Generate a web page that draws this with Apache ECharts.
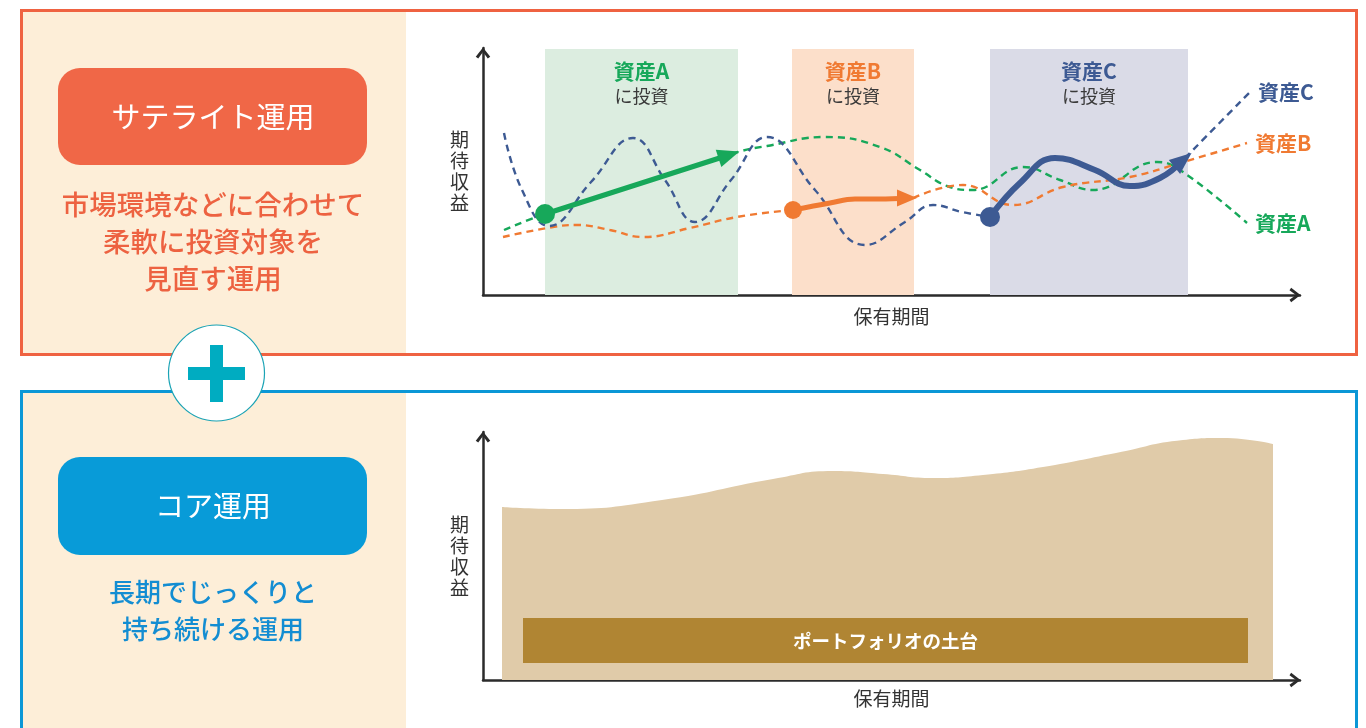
<!DOCTYPE html>
<html lang="ja">
<head>
<meta charset="utf-8">
<title>サテライト運用とコア運用</title>
<script src="https://cdn.jsdelivr.net/npm/echarts@6/dist/echarts.min.js"></script>
<style>
html,body{margin:0;padding:0;background:#fff;}
#chart{width:1366px;height:728px;}
</style>
</head>
<body>
<div id="chart"></div>
<script>
// ---- data (x = 保有期間, y = 期待収益, arbitrary units) ----
var bandA = [62, 255], bandB = [309, 431], bandC = [507, 705];
var bandTop = 246;

var assetCDash1 = [[21,162],[39,105],[66,69],[108,113],[150,157],[182,115],[212,73],[248,115],[284,158],[332,105],[382,50],[422,73],[450,90],[479,83],[507,78]];
var assetCDash2 = [[702,137],[767,203]];
var assetCHold  = [[507,78],[537,112],[572,137],[612,125],[647,109],[677,117],[700,135]];

var assetADash  = [[21,65],[62,81],[157,111],[255,143],[284,149],[342,158],[397,148],[437,125],[464,109],[490,105],[540,128],[577,115],[610,105],[674,133],[697,125],[764,72]];
var assetAHold  = [[62,81],[246,140]];

var assetBDash1 = [[20,58],[70,68],[94,70],[127,65],[160,58],[207,67],[254,78],[309,85]];
var assetBDash2 = [[430,97],[480,110],[530,90],[580,108],[647,118],[697,132],[764,152]];
var assetBHold  = [[310,85],[347,92],[372,96],[397,96],[424,97]];

var coreArea = [[19,173],[77,171],[179,180],[290,201],[350,209],[400,206],[450,202],[500,205],[560,213],[633,227],[700,240],[740,242],[790,236]];
var baseBar = [[40,17],[765,62]];

var FONT = '"Noto Sans CJK JP", "Noto Sans", sans-serif';
var BLUE = '#3d5a93', GREEN = '#17a85a', ORANGE = '#f07a32';

var arrowUp = 'path://M0,9 L7,0 L14,9 L11.6,10.6 L7,4.4 L2.4,10.6 Z';

function axisPair(gi, top, h, yMax){
    var line = {show:true, lineStyle:{color:'#2b2b2b', width:2.5}, symbol:['none', arrowUp], symbolSize:[19,11], symbolOffset:[0,-5]};
    return {
        grid: {left:483, top:top, width:817, height:h},
        x: {type:'value', gridIndex:gi, min:0, max:817, axisLine:line, axisTick:{show:false}, axisLabel:{show:false}, splitLine:{show:false},
            name:'保有期間', nameLocation:'middle', nameGap:12, nameTextStyle:{fontFamily:FONT, fontSize:19, color:'#333', verticalAlign:'top'}},
        y: {type:'value', gridIndex:gi, min:0, max:yMax, axisLine:line, axisTick:{show:false}, axisLabel:{show:false}, splitLine:{show:false},
            name:'期\n待\n収\n益', nameLocation:'middle', nameRotate:0, nameGap:14, nameTextStyle:{fontFamily:FONT, fontSize:19, lineHeight:21, color:'#333'}}
    };
}
var top1 = axisPair(0, 48, 247, 247), bot1 = axisPair(1, 432, 248, 248);
bot1.x.nameGap = 9;

function dash(name, data, color, label){
    return {name:name, type:'line', xAxisIndex:0, yAxisIndex:0, data:data, smooth:0.45, symbol:'none', silent:true, z:3,
        lineStyle:{color:color, width:2.4, type:[7,5]},
        endLabel:{show:!!label, formatter:name, color:color, fontFamily:FONT, fontSize:21, fontWeight:'bold', distance:8}};
}
function hold(data, color, width, rot, dot, head, smooth){
    var d = data.map(function(p, i){
        if(i==0){return {value:p, symbol:'circle', symbolSize:dot};}
        if(i==data.length-1){return {value:p, symbol:'triangle', symbolSize:head, symbolRotate:rot};}
        return {value:p, symbol:'none'};
    });
    return {type:'line', xAxisIndex:0, yAxisIndex:0, data:d, smooth:smooth, symbol:'none', showSymbol:true, silent:true, z:5,
        itemStyle:{color:color}, lineStyle:{color:color, width:width, cap:'round'}};
}
function band(range, name, color, fill){
    return [{coord:[range[0],0], itemStyle:{color:fill},
             label:{formatter:'{a|' + name + '}\n{b|に投資}', rich:{
                a:{color:color, fontSize:21, fontWeight:'bold', fontFamily:FONT, lineHeight:25},
                b:{color:'#3a3a3a', fontSize:18, fontFamily:FONT, lineHeight:25}}}},
            {coord:[range[1],bandTop]}];
}

var graphics = [
    // satellite panel
    {type:'rect', z:-10, shape:{x:21, y:10, width:1336, height:345}, style:{fill:'#fff'}},
    {type:'rect', z:-9, shape:{x:22, y:11, width:384, height:343}, style:{fill:'#fdeed8'}},
    {type:'rect', z:-8, shape:{x:21.5, y:10.5, width:1335, height:344}, style:{fill:'none', stroke:'#ef6241', lineWidth:3}},
    {type:'rect', z:-7, shape:{x:58, y:68, width:309, height:97, r:22}, style:{fill:'#f06747'}},
    {type:'text', z:-6, x:213, y:117, style:{text:'サテライト運用', fill:'#fff', fontSize:29, fontFamily:FONT,
        align:'center', verticalAlign:'middle', textAlign:'center', textVerticalAlign:'middle'}},
    {type:'text', z:-6, x:213, y:242, style:{text:'市場環境などに合わせて\n柔軟に投資対象を\n見直す運用', fill:'#ed6241', fontSize:27.5, fontWeight:500,
        lineHeight:37, fontFamily:FONT, align:'center', verticalAlign:'middle', textAlign:'center', textVerticalAlign:'middle'}},
    // core panel
    {type:'rect', z:-10, shape:{x:21, y:391, width:1336, height:360}, style:{fill:'#fff'}},
    {type:'rect', z:-9, shape:{x:22, y:392, width:384, height:360}, style:{fill:'#fdeed8'}},
    {type:'rect', z:-8, shape:{x:21.5, y:391.5, width:1335, height:360}, style:{fill:'none', stroke:'#0b97d6', lineWidth:3}},
    {type:'rect', z:-7, shape:{x:58, y:457, width:309, height:98, r:22}, style:{fill:'#089bd8'}},
    {type:'text', z:-6, x:213, y:506, style:{text:'コア運用', fill:'#fff', fontSize:29, fontFamily:FONT,
        align:'center', verticalAlign:'middle', textAlign:'center', textVerticalAlign:'middle'}},
    {type:'text', z:-6, x:213, y:611, style:{text:'長期でじっくりと\n持ち続ける運用', fill:'#138dd2', fontSize:26, fontWeight:500,
        lineHeight:37, fontFamily:FONT, align:'center', verticalAlign:'middle', textAlign:'center', textVerticalAlign:'middle'}},
    // plus badge
    {type:'circle', z:-5, shape:{cx:216.5, cy:373, r:48}, style:{fill:'#fff', stroke:'#1aa3b5', lineWidth:1.2}},
    {type:'rect', z:-4, shape:{x:188, y:367, width:57, height:13}, style:{fill:'#00acc1'}},
    {type:'rect', z:-4, shape:{x:210, y:345, width:13, height:57}, style:{fill:'#00acc1'}}
];

var option = {
    animation:false,
    textStyle:{fontFamily:FONT},
    graphic:graphics,
    grid:[top1.grid, bot1.grid],
    xAxis:[top1.x, bot1.x],
    yAxis:[top1.y, bot1.y],
    series:[
        {type:'line', xAxisIndex:0, yAxisIndex:0, data:[], z:1, silent:true,
         markArea:{silent:true, label:{show:true, position:'insideTop', distance:10},
            data:[band(bandA,'資産A',GREEN,'#dcede0'), band(bandB,'資産B',ORANGE,'#fcdfca'), band(bandC,'資産C',BLUE,'#dadbe7')]}},
        dash('資産A', assetADash, GREEN, true),
        dash('資産B', assetBDash1, ORANGE, false),
        dash('資産B', assetBDash2, ORANGE, true),
        dash('資産C', assetCDash1, BLUE, false),
        dash('資産C', assetCDash2, BLUE, true),
        hold(assetAHold, GREEN, 5, -72, 20, [18,22], false),
        hold(assetBHold, ORANGE, 5, -90, 18, [17,20], 0.4),
        hold(assetCHold, BLUE, 6, -51, 20, [18,22], 0.45),
        {type:'line', xAxisIndex:1, yAxisIndex:1, data:coreArea, smooth:0.5, symbol:'none', silent:true, z:2,
         lineStyle:{width:0}, areaStyle:{color:'#e0cba9', opacity:1}},
        {type:'line', xAxisIndex:1, yAxisIndex:1, data:[], z:4, silent:true,
         markArea:{silent:true, z:6, itemStyle:{color:'#b08533', opacity:1},
            label:{show:true, position:'inside', color:'#fff', fontSize:18.5, fontWeight:'bold', fontFamily:FONT},
            data:[[{coord:baseBar[0], name:'ポートフォリオの土台'}, {coord:baseBar[1]}]]}}
    ]
};

var myChart = echarts.init(document.getElementById('chart'));
myChart.setOption(option);
</script>
</body>
</html>
